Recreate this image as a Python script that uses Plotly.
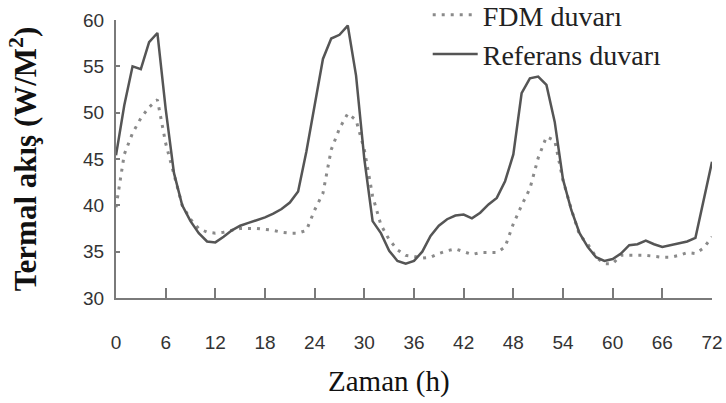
import plotly.graph_objects as go

hours = list(range(0, 73))

referans = [45.4, 50.8, 55.0, 54.7, 57.6, 58.6, 50.4, 43.5, 40.0, 38.3,
            37.0, 36.1, 36.0, 36.6, 37.3, 37.8, 38.1, 38.4, 38.7, 39.1,
            39.6, 40.3, 41.5, 45.8, 50.8, 55.8, 58.0, 58.4, 59.4, 54.0,
            45.0, 38.3, 37.0, 35.1, 34.0, 33.7, 34.0, 35.0, 36.7, 37.8,
            38.5, 38.9, 39.0, 38.6, 39.2, 40.1, 40.8, 42.6, 45.5, 52.1,
            53.7, 53.9, 53.0, 49.0, 42.8, 39.5, 37.0, 35.5, 34.4, 34.0,
            34.2, 34.8, 35.7, 35.8, 36.2, 35.8, 35.5, 35.7, 35.9, 36.1,
            36.5, 40.5, 44.7]

fdm = [39.8, 45.5, 47.8, 49.4, 50.6, 51.4, 46.7, 43.3, 40.0, 38.5,
       37.5, 37.1, 37.0, 37.1, 37.3, 37.5, 37.5, 37.5, 37.4, 37.3,
       37.1, 37.0, 37.0, 37.3, 39.5, 41.3, 46.0, 48.3, 49.9, 49.2,
       46.0, 41.0, 37.9, 36.3, 35.2, 34.6, 34.5, 34.3, 34.4, 34.8,
       35.1, 35.3, 35.0, 34.7, 34.9, 34.9, 34.9, 35.5, 38.0, 40.0,
       41.8, 45.1, 47.4, 47.0, 42.7, 39.6, 36.8, 35.8, 34.4, 33.7,
       33.7, 34.6, 34.6, 34.6, 34.6, 34.5, 34.4, 34.4, 34.6, 34.9,
       34.8, 35.4, 36.6]

x_ticks = list(range(0, 73, 6))
y_ticks = [30, 35, 40, 45, 50, 55, 60]

serif = "Liberation Serif, DejaVu Serif, serif"
sans = "Liberation Sans Narrow, Arial Narrow, Liberation Sans, sans-serif"

fig = go.Figure()
fig.add_trace(go.Scatter(
    x=hours, y=fdm, mode="lines", name="FDM duvarı",
    line=dict(color="#8a8a8a", width=3, dash="3px,6px"),
))
fig.add_trace(go.Scatter(
    x=hours, y=referans, mode="lines", name="Referans duvarı",
    line=dict(color="#555555", width=2.5),
))

fig.update_layout(
    width=726, height=403,
    margin=dict(l=116, r=14, t=20, b=105, autoexpand=False),
    paper_bgcolor="white", plot_bgcolor="white",
    showlegend=True,
    legend=dict(
        x=0.523, xanchor="left", y=1.108, yanchor="top",
        font=dict(family=serif, size=28, color="#222222"),
        bgcolor="rgba(255,255,255,0)", borderwidth=0,
        itemwidth=45, tracegroupgap=0,
    ),
    xaxis=dict(
        range=[0, 72], tickvals=x_ticks, ticktext=[str(v) for v in x_ticks],
        showgrid=False, zeroline=False, showline=True,
        linecolor="#7a7a7a", linewidth=2,
        ticks="inside", ticklen=10, tickwidth=2, tickcolor="#7a7a7a",
        ticklabelstandoff=26,
        tickfont=dict(family=sans, size=19, color="#333333"),
    ),
    yaxis=dict(
        range=[30, 60], tickvals=y_ticks, ticktext=[str(v) for v in y_ticks],
        showgrid=False, zeroline=False, showline=True,
        linecolor="#7a7a7a", linewidth=2,
        ticks="inside", ticklen=4, tickwidth=2, tickcolor="#7a7a7a",
        ticklabelstandoff=6,
        tickfont=dict(family=sans, size=19, color="#333333"),
        title=dict(text="<b>Termal akış (W/M<sup>2</sup>)</b>",
                   font=dict(family=serif, size=31, color="#111111"),
                   standoff=37),
    ),
    annotations=[dict(
        text="Zaman (h)", xref="paper", yref="paper",
        x=(389 - 116) / 596, y=(298 - 381) / 278,
        xanchor="center", yanchor="middle", showarrow=False,
        font=dict(family=serif, size=29, color="#111111"),
    )],
)

fig.write_html("out.html")
